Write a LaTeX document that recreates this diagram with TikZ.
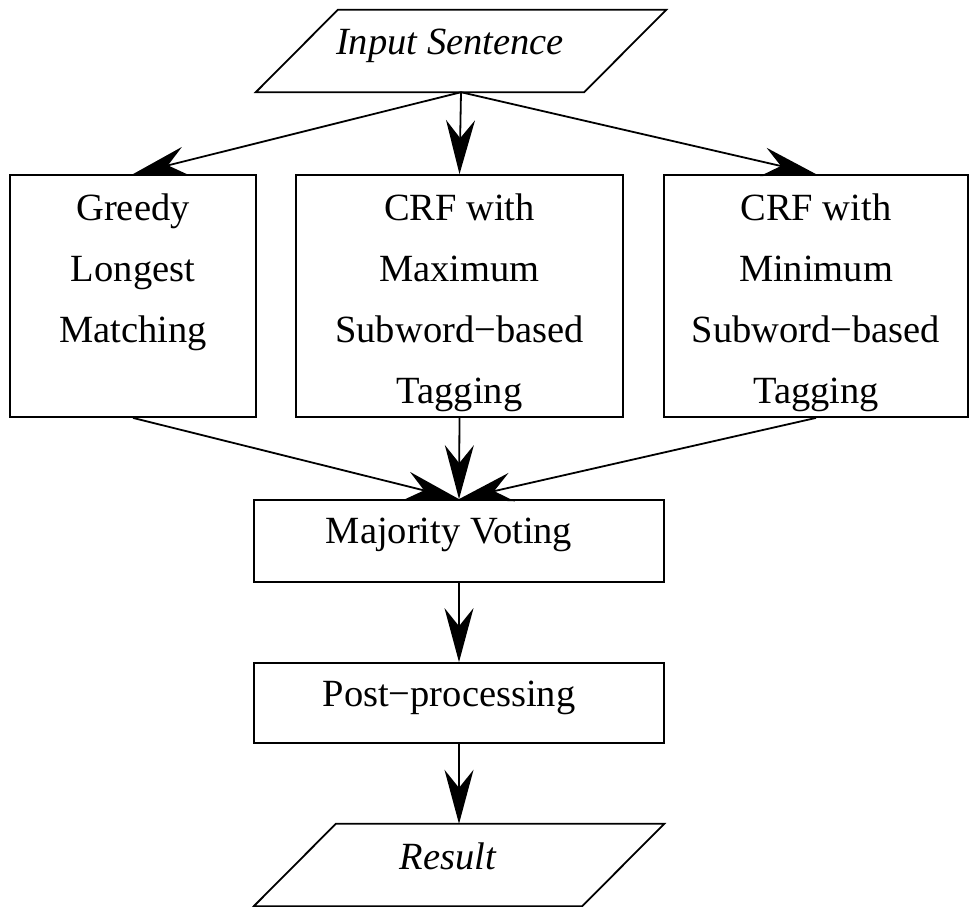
\documentclass[tikz,border=0pt]{standalone}
\usepackage{fontspec}
\setmainfont{Liberation Serif}
\usetikzlibrary{arrows.meta,calc}

\begin{document}
\begin{tikzpicture}[x=1pt,y=-1pt,
  txt/.style={font=\fontsize{38.5}{61}\selectfont, inner sep=0pt, anchor=north, align=center},
  itxt/.style={txt, font=\fontsize{38.5}{61}\selectfont\itshape},
  flowbox/.style={draw, line width=1.8pt, inner sep=0pt},
  iobox/.style={inner sep=0pt, minimum width=410pt, minimum height=82pt},
  ioline/.style={draw, line width=1.8pt, line join=miter},
  conn/.style={line width=1.8pt, -{Stealth[length=54pt,width=29pt,inset=18pt]}}]

\useasboundingbox (0,0) rectangle (971,906);

% input parallelogram
\node[iobox] (input) at (461,51) {};
\draw[ioline] ($(input.north west)+(82,0)$) -- (input.north east)
  -- ($(input.south east)+(-82,0)$) -- (input.south west) -- cycle;
\node[itxt] (inputtext) at ($(input.north)+(-11,19)$) {Input Sentence};

% three segmenters
\node[flowbox, minimum width=246pt, minimum height=242pt] (greedy) at (133,296) {};
\node[flowbox, minimum width=327pt, minimum height=242pt] (crfmax) at (459.5,296) {};
\node[flowbox, minimum width=304pt, minimum height=242pt] (crfmin) at (816,296) {};
\node[txt] (greedytext) at ($(greedy.north)+(0,19)$) {Greedy\\Longest\\Matching};
\node[txt] (crfmaxtext) at ($(crfmax.north)+(0,19)$) {CRF with\\Maximum\\Subword−based\\Tagging};
\node[txt] (crfmintext) at ($(crfmin.north)+(0,19)$) {CRF with\\Minimum\\Subword−based\\Tagging};

% combination and post-processing
\node[flowbox, minimum width=410pt, minimum height=82pt] (vote) at (459,541) {};
\node[txt] (votetext) at ($(vote.north)+(-10,19)$) {Majority Voting};
\node[flowbox, minimum width=410pt, minimum height=80pt] (post) at (459,703) {};
\node[txt] (posttext) at ($(post.north)+(-10,19)$) {Post−processing};

% output parallelogram
\node[iobox] (result) at (459,865) {};
\draw[ioline] ($(result.north west)+(82,0)$) -- (result.north east)
  -- ($(result.south east)+(-82,0)$) -- (result.south west) -- cycle;
\node[itxt] (resulttext) at ($(result.north)+(-11,19)$) {Result};

% connectors
\draw[conn] (input.south) -- (greedy.north);
\draw[conn] (input.south) -- (crfmax.north);
\draw[conn] (input.south) -- (crfmin.north);
\draw[conn] (greedy.south) -- (vote.north);
\draw[conn] (crfmax.south) -- (vote.north);
\draw[conn] (crfmin.south) -- (vote.north);
\draw[conn] (vote.south) -- (post.north);
\draw[conn] (post.south) -- (result.north);
\end{tikzpicture}
\end{document}
